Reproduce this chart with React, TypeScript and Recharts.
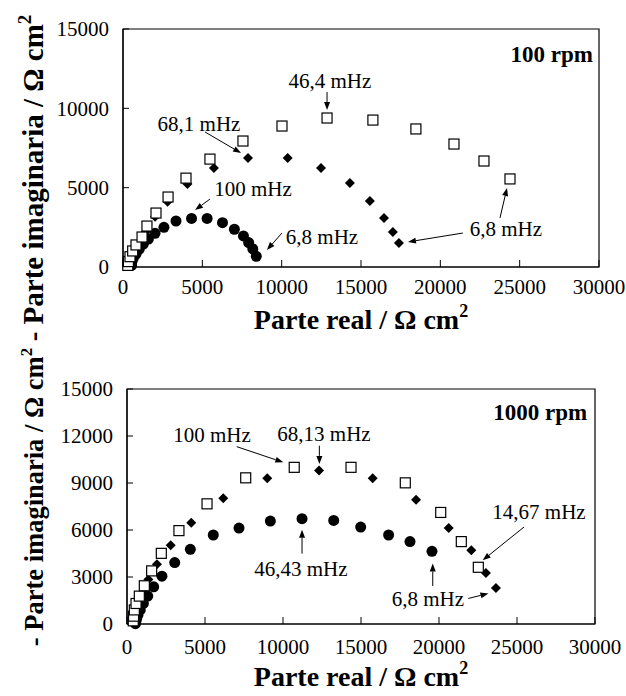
import React from "react";
import {
  ScatterChart,
  Scatter,
  XAxis,
  YAxis,
  ReferenceArea,
  ReferenceLine,
  ReferenceDot,
} from "recharts";

type Pt = [number, number];

// ---- 100 rpm panel ----
const squares100: Pt[] = [
  [300, 100], [340, 340], [440, 650], [610, 1010], [820, 1390], [1200, 1890],
  [1510, 2580], [2080, 3400], [2840, 4410], [3970, 5600], [5480, 6800],
  [7560, 7940], [10020, 8885], [12860, 9390], [15750, 9260], [18460, 8700],
  [20860, 7750], [22750, 6680], [24390, 5550],
];
const diamonds100: Pt[] = [
  [450, 80], [520, 300], [650, 650], [850, 1100], [1100, 1600], [1450, 2230],
  [2020, 3170], [2810, 4120], [4060, 5230], [5730, 6240], [7880, 6870],
  [10380, 6870], [12480, 6240], [14300, 5290], [15560, 4160], [16450, 3090],
  [17010, 2210], [17390, 1510],
];
const circles100: Pt[] = [
  [540, 100], [550, 300], [650, 550], [820, 820], [1030, 1130], [1280, 1450],
  [1600, 1760], [2020, 2120], [2580, 2500], [3340, 2900], [4320, 3060],
  [5300, 3060], [6270, 2790], [7020, 2380], [7590, 1960], [7920, 1540],
  [8180, 1140], [8400, 670],
];

// ---- 1000 rpm panel ----
const squares1000: Pt[] = [
  [400, 200], [420, 500], [470, 900], [580, 1310], [790, 1780], [1110, 2440],
  [1580, 3390], [2200, 4510], [3330, 5960], [5130, 7670], [7610, 9330],
  [10720, 10000], [14360, 10000], [17840, 9010], [20110, 7120], [21430, 5260],
  [22520, 3620],
];
const diamonds1000: Pt[] = [
  [450, 60], [470, 250], [520, 550], [620, 950], [780, 1450], [1000, 2050],
  [1370, 2840], [1920, 3810], [2800, 5020], [4120, 6460], [6170, 8030],
  [8990, 9300], [12310, 9790], [15750, 9300], [18530, 7930], [20620, 6120],
  [22070, 4700], [23010, 3260], [23650, 2290],
];
const circles1000: Pt[] = [
  [540, 20], [560, 120], [610, 300], [700, 560], [850, 900], [1050, 1310],
  [1330, 1780], [1710, 2370], [2240, 3050], [3060, 3920], [4060, 4770],
  [5530, 5680], [7180, 6120], [9190, 6570], [11220, 6720], [13250, 6610],
  [14980, 6190], [16770, 5680], [18140, 5260], [19550, 4640],
];

const xTicks = [0, 5000, 10000, 15000, 20000, 25000, 30000];
const yTicks100 = [0, 5000, 10000, 15000];
const yTicks1000 = [0, 3000, 6000, 9000, 12000, 15000];

// frequency notes: label anchor + arrows (from -> to), data units
type Note = { text: string; at: Pt; arrows: [Pt, Pt][] };
const notes100: Note[] = [
  { text: "46,4 mHz", at: [13040, 11280], arrows: [[[12860, 11030], [12860, 9890]]] },
  { text: "68,1 mHz", at: [4790, 8570], arrows: [[[5170, 8510], [7440, 7180]]] },
  { text: "100 mHz", at: [8190, 4470], arrows: [[[5480, 4280], [4540, 3590]]] },
  { text: "6,8 mHz", at: [12540, 1450], arrows: [[[10020, 2140], [9070, 1070]]] },
  {
    text: "6,8 mHz",
    at: [24130, 1950],
    arrows: [
      [[21420, 2140], [17960, 1580]],
      [[23760, 3090], [24200, 4980]],
    ],
  },
];
const notes1000: Note[] = [
  { text: "100 mHz", at: [5450, 11630], arrows: [[[7030, 11320], [10020, 10320]]] },
  { text: "68,13 mHz", at: [12630, 11700], arrows: [[[12330, 11380], [12330, 10220]]] },
  { text: "46,43 mHz", at: [11150, 3050], arrows: [[[11220, 4490], [11220, 6020]]] },
  {
    text: "6,8 mHz",
    at: [19290, 1140],
    arrows: [
      [[19600, 2420], [19600, 3860]],
      [[21880, 1630], [23170, 1950]],
    ],
  },
  { text: "14,67 mHz", at: [26410, 6680], arrows: [[[25450, 6190], [22800, 4070]]] },
];

const FONT = "'Liberation Serif', 'Times New Roman', serif";

const toXY = (pts: Pt[]) => pts.map(([x, y]) => ({ x, y }));

const Square = (p: any) => (
  <rect x={p.cx - 5} y={p.cy - 5} width={10} height={10} fill="#fff" stroke="#000" strokeWidth={1.2} />
);
const Diamond = (p: any) => (
  <polygon
    points={`${p.cx},${p.cy - 5} ${p.cx + 5},${p.cy} ${p.cx},${p.cy + 5} ${p.cx - 5},${p.cy}`}
    fill="#000"
  />
);
const Dot = (p: any) => <circle cx={p.cx} cy={p.cy} r={5.5} fill="#000" />;

const arrowShape = (p: any) => {
  const { x1, y1, x2, y2 } = p;
  const a = Math.atan2(y2 - y1, x2 - x1);
  const L = 8;
  const W = 3;
  const bx = x2 - L * Math.cos(a);
  const by = y2 - L * Math.sin(a);
  const pts = `${x2},${y2} ${bx - W * Math.sin(a)},${by + W * Math.cos(a)} ${bx + W * Math.sin(a)},${by - W * Math.cos(a)}`;
  return (
    <g>
      <line x1={x1} y1={y1} x2={bx} y2={by} stroke="#000" strokeWidth={1} />
      <polygon points={pts} fill="#000" />
    </g>
  );
};

interface PanelProps {
  top: number;
  height: number;
  margin: { top: number; right: number; left: number; bottom: number };
  yAxisWidth: number;
  xAxisHeight: number;
  xTickMargin: number;
  yTicks: number[];
  squares: Pt[];
  diamonds: Pt[];
  circles: Pt[];
  notes: Note[];
  tag: string;
  tagAt: Pt;
  xTitleDy: number;
  yTitleCy: number;
  yTitleSize: number;
}

function Panel(props: PanelProps) {
  const {
    top, height, margin, yAxisWidth, xAxisHeight, xTickMargin, yTicks,
    squares, diamonds, circles, notes, tag, tagAt, xTitleDy, yTitleCy, yTitleSize,
  } = props;
  const plotBottom = height - margin.bottom - xAxisHeight;
  const plotLeft = margin.left + yAxisWidth;
  const plotRight = 626 - margin.right;

  return (
    <div style={{ position: "absolute", left: 0, top }}>
      <ScatterChart width={626} height={height} margin={margin}>
        <ReferenceArea
          x1={0}
          x2={30000}
          y1={0}
          y2={15000}
          fill="none"
          fillOpacity={0}
          stroke="#000"
          strokeWidth={1.2}
          ifOverflow="visible"
        />
        <XAxis
          type="number"
          dataKey="x"
          domain={[0, 30000]}
          ticks={xTicks}
          interval={0}
          height={xAxisHeight}
          tickSize={-7}
          tickMargin={xTickMargin}
          axisLine={{ stroke: "#000", strokeWidth: 1.2 }}
          tickLine={{ stroke: "#000" }}
          tick={{ fill: "#000", fontSize: 21, fontFamily: FONT }}
          label={{
            content: () => (
              <text
                x={(plotLeft + plotRight) / 2}
                y={plotBottom + xTitleDy}
                textAnchor="middle"
                fontFamily={FONT}
                fontWeight="bold"
                fontSize={28}
                fill="#000"
              >
                Parte real / Ω cm
                <tspan dy={-12} fontSize={18}>2</tspan>
              </text>
            ),
          }}
        />
        <YAxis
          type="number"
          dataKey="y"
          domain={[0, 15000]}
          ticks={yTicks}
          interval={0}
          width={yAxisWidth}
          tickSize={-6}
          tickMargin={20}
          axisLine={{ stroke: "#000", strokeWidth: 1.2 }}
          tickLine={{ stroke: "#000" }}
          tick={{ fill: "#000", fontSize: 21, fontFamily: FONT }}
          label={{
            content: () => (
              <text
                x={43}
                y={yTitleCy}
                transform={`rotate(-90, 43, ${yTitleCy})`}
                textAnchor="middle"
                fontFamily={FONT}
                fontWeight="bold"
                fontSize={yTitleSize}
                fill="#000"
              >
                - Parte imaginaria / Ω cm
                <tspan dy={-Math.round(yTitleSize * 0.43)} fontSize={Math.round(yTitleSize * 0.65)}>
                  2
                </tspan>
              </text>
            ),
          }}
        />
        <Scatter data={toXY(circles)} shape={Dot} isAnimationActive={false} />
        <Scatter data={toXY(diamonds)} shape={Diamond} isAnimationActive={false} />
        <Scatter data={toXY(squares)} shape={Square} isAnimationActive={false} />
        {notes.flatMap((n, i) =>
          n.arrows.map((a, j) => (
            <ReferenceLine
              key={`a${i}-${j}`}
              segment={[
                { x: a[0][0], y: a[0][1] },
                { x: a[1][0], y: a[1][1] },
              ]}
              shape={arrowShape}
              ifOverflow="visible"
            />
          ))
        )}
        {notes.map((n, i) => (
          <ReferenceDot
            key={`t${i}`}
            x={n.at[0]}
            y={n.at[1]}
            r={0}
            ifOverflow="visible"
            shape={(p: any) => (
              <text
                x={p.cx}
                y={p.cy}
                textAnchor="middle"
                fontFamily={FONT}
                fontSize={21}
                fill="#000"
              >
                {n.text}
              </text>
            )}
          />
        ))}
        <ReferenceDot
          x={tagAt[0]}
          y={tagAt[1]}
          r={0}
          ifOverflow="visible"
          shape={(p: any) => (
            <text
              x={p.cx}
              y={p.cy}
              textAnchor="end"
              fontFamily={FONT}
              fontWeight="bold"
              fontSize={23}
              fill="#000"
            >
              {tag}
            </text>
          )}
        />
      </ScatterChart>
    </div>
  );
}

export default function App() {
  return (
    <div
      style={{
        position: "absolute",
        left: 0,
        top: 0,
        width: 626,
        height: 696,
        background: "#fff",
        overflow: "hidden",
      }}
    >
      <Panel
        top={0}
        height={352}
        margin={{ top: 29, right: 27, left: 0, bottom: 12 }}
        yAxisWidth={123}
        xAxisHeight={73}
        xTickMargin={19}
        yTicks={yTicks100}
        squares={squares100}
        diamonds={diamonds100}
        circles={circles100}
        notes={notes100}
        tag="100 rpm"
        tagAt={[29620, 12920]}
        xTitleDy={62}
        yTitleCy={178}
        yTitleSize={29}
      />
      <Panel
        top={340}
        height={356}
        margin={{ top: 49, right: 31, left: 0, bottom: 0 }}
        yAxisWidth={127}
        xAxisHeight={72}
        xTickMargin={22}
        yTicks={yTicks1000}
        squares={squares1000}
        diamonds={diamonds1000}
        circles={circles1000}
        notes={notes1000}
        tag="1000 rpm"
        tagAt={[29500, 13030]}
        xTitleDy={62}
        yTitleCy={157}
        yTitleSize={26.5}
      />
    </div>
  );
}
